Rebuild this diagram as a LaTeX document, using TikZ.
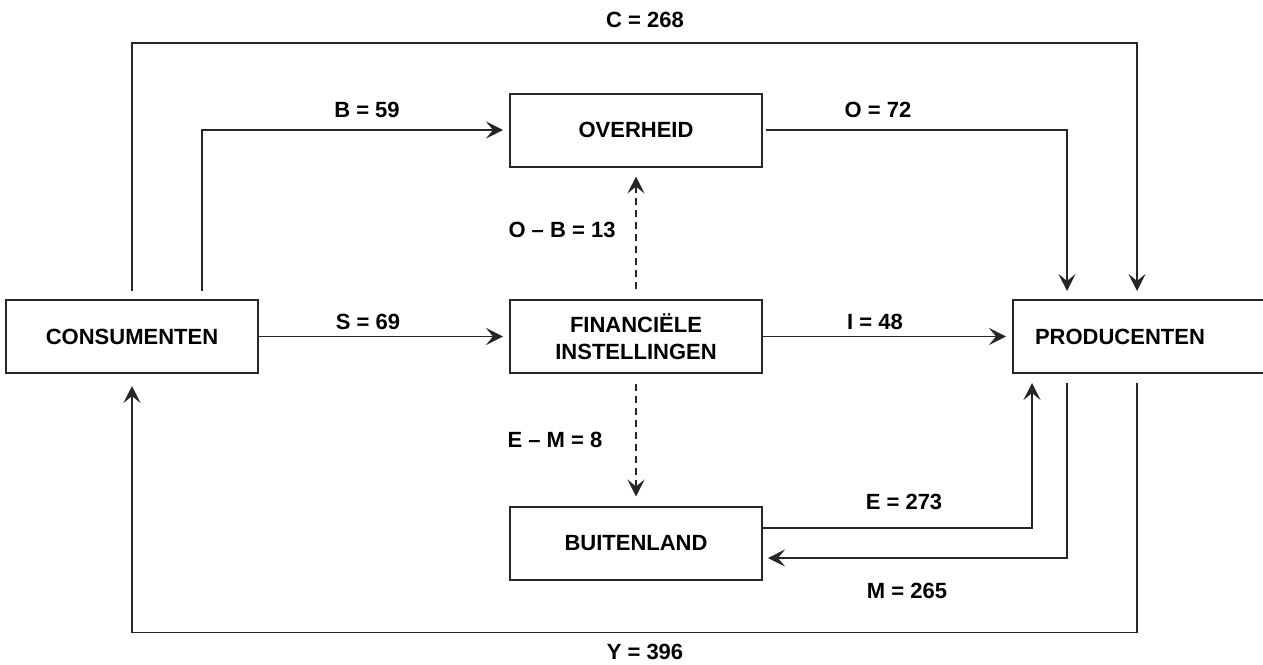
\documentclass[tikz,border=0pt]{standalone}
\usepackage{fontspec}
\setmainfont{Liberation Sans}
\usetikzlibrary{arrows.meta}
\tikzset{
  txt/.style={font=\fontsize{22}{27}\selectfont\bfseries},
  box/.style={txt, draw=black!85, line width=2pt, minimum width=252pt, minimum height=73pt, inner sep=0pt, align=center},
  lbl/.style={txt, inner sep=0pt},
  conn/.style={draw=black!85, line width=1.8pt, -{Stealth[length=17pt,width=17pt,inset=7pt]}},
  dconn/.style={conn, dash pattern=on 7pt off 5pt},
}
\begin{document}
\begin{tikzpicture}[x=1pt, y=-1pt]
\useasboundingbox (0,0) rectangle (1263,664);
\node[box] (cons) at (132,336.5) {CONSUMENTEN};
\node[box] (over) at (636,130) {OVERHEID};
\node[box] (fin) at (636,336.5) {FINANCIËLE\\INSTELLINGEN};
\node[box] (buit) at (636,543) {BUITENLAND};
\node[box, text width=208pt, inner xsep=22pt, align=left] (prod) at (1139,336.5) {PRODUCENTEN};

% C
\draw[conn] ([yshift=8pt]cons.north) -- ++(0,-248) -| ([xshift=-2pt,yshift=8pt]prod.north);
\node[lbl] (lc) at (645,20) {C = 268};
% B
\draw[conn] ([xshift=70pt,yshift=8pt]cons.north) |- ([xshift=-6pt]over.west);
\node[lbl] (lb) at (367,110) {B = 59};
% O
\draw[conn] ([xshift=3pt]over.east) -| ([xshift=-72pt,yshift=8pt]prod.north);
\node[lbl] (lo) at (878,110) {O = 72};
% O - B
\draw[dconn] ([yshift=10pt]fin.north) -- ([yshift=-9pt]over.south);
\node[lbl] (lob) at (562,230) {O – B = 13};
% S
\draw[conn] (cons.east) -- ([xshift=-6pt]fin.west);
\node[lbl] (ls) at (368,322) {S = 69};
% I
\draw[conn] (fin.east) -- ([xshift=-6pt]prod.west);
\node[lbl] (li) at (875,322) {I = 48};
% E - M
\draw[dconn] ([yshift=-10pt]fin.south) -- ([yshift=9pt]buit.north);
\node[lbl] (lem) at (555,440) {E – M = 8};
% E
\draw[conn] ([yshift=15pt]buit.east) -| ([xshift=-107pt,yshift=-9pt]prod.south);
\node[lbl] (le) at (904,502) {E = 273};
% M
\draw[conn] ([xshift=-72pt,yshift=-9pt]prod.south) |- ([xshift=5pt,yshift=-15pt]buit.east);
\node[lbl] (lm) at (907,591) {M = 265};
% Y
\draw[conn] ([xshift=-2pt,yshift=-9pt]prod.south) -- ++(0,249.5) -| ([yshift=-12pt]cons.south);
\node[lbl] (ly) at (645,652) {Y = 396};
\end{tikzpicture}
\end{document}
